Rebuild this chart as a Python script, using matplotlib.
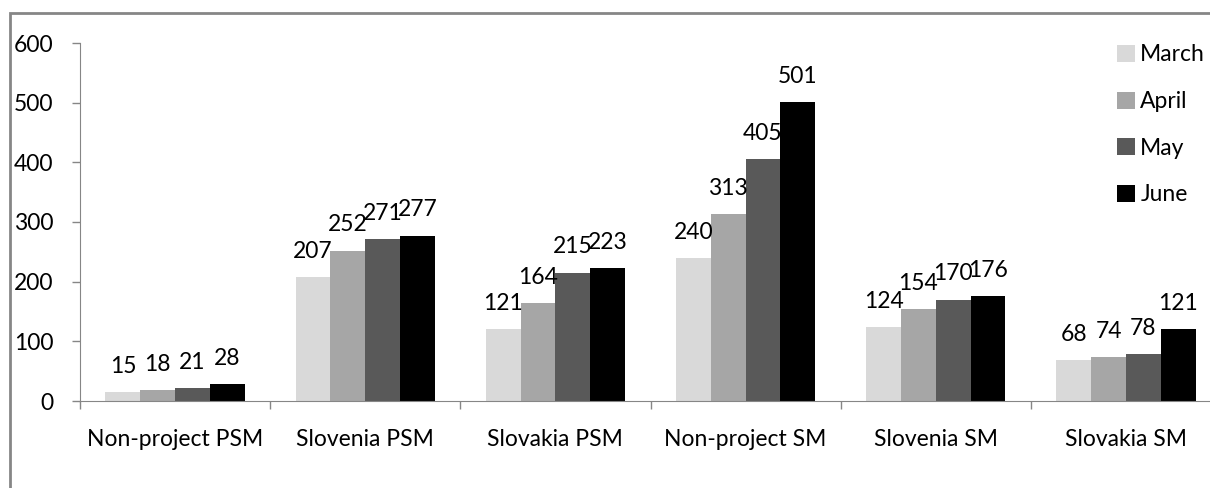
import matplotlib

matplotlib.use("Agg")
import matplotlib.pyplot as plt
import numpy as np
from matplotlib.patches import Rectangle

categories = ["Non-project PSM", "Slovenia PSM", "Slovakia PSM",
              "Non-project SM", "Slovenia SM", "Slovakia SM"]
months = ["March", "April", "May", "June"]
march = [15, 207, 121, 240, 124, 68]
april = [18, 252, 164, 313, 154, 74]
may = [21, 271, 215, 405, 170, 78]
june = [28, 277, 223, 501, 176, 121]
colors = ["#d9d9d9", "#a6a6a6", "#595959", "#000000"]

W, H = 1210, 488
FS = 16.5
plt.rcParams["font.family"] = ["Lato", "DejaVu Sans"]
fig = plt.figure(figsize=(W / 100, H / 100), dpi=100)

# outer chart frame (cropped on the right and bottom like the source)
fig.patches.append(Rectangle((10 / W, -0.1), 1.2, 1 - 13 / H + 0.1,
                             transform=fig.transFigure, fill=False,
                             edgecolor="#868686", lw=2))

ax = fig.add_axes([80 / W, 1 - 401 / H, (1221 - 80) / W, (401 - 43) / H])
x = np.arange(len(categories))
bw = 0.183
for k, (vals, c, m) in enumerate(zip([march, april, may, june], colors, months)):
    pos = x + (k - 1.5) * bw
    bars = ax.bar(pos, vals, width=bw, color=c, label=m, zorder=2)
    for b, v in zip(bars, vals):
        ax.annotate(str(v), (b.get_x() + b.get_width() / 2, v),
                    xytext=(0, 11), textcoords="offset points",
                    ha="center", va="bottom", fontsize=FS)

ax.set_xlim(-0.5, len(categories) - 0.5)
ax.set_ylim(0, 600)
ax.set_yticks(range(0, 601, 100))
ax.set_xticks(x)
ax.set_xticklabels(categories, fontsize=FS)
ax.set_xticks(np.arange(len(categories) + 1) - 0.5, minor=True)
ax.tick_params(axis="x", which="major", length=0, pad=20)
ax.tick_params(axis="x", which="minor", length=6, color="#868686", width=1)
ax.tick_params(axis="y", length=6, color="#868686", width=1, labelsize=FS, pad=13)
for s in ["top", "right"]:
    ax.spines[s].set_visible(False)
for s in ["left", "bottom"]:
    ax.spines[s].set_color("#868686")

ax.legend(loc="upper left", bbox_to_anchor=(1106 / W, 1 - 33 / H),
          bbox_transform=fig.transFigure, frameon=False, borderpad=0,
          fontsize=FS, handlelength=0.75, handleheight=0.75,
          handletextpad=0.25, labelspacing=1.12)

fig.savefig("out.png", dpi=100)
